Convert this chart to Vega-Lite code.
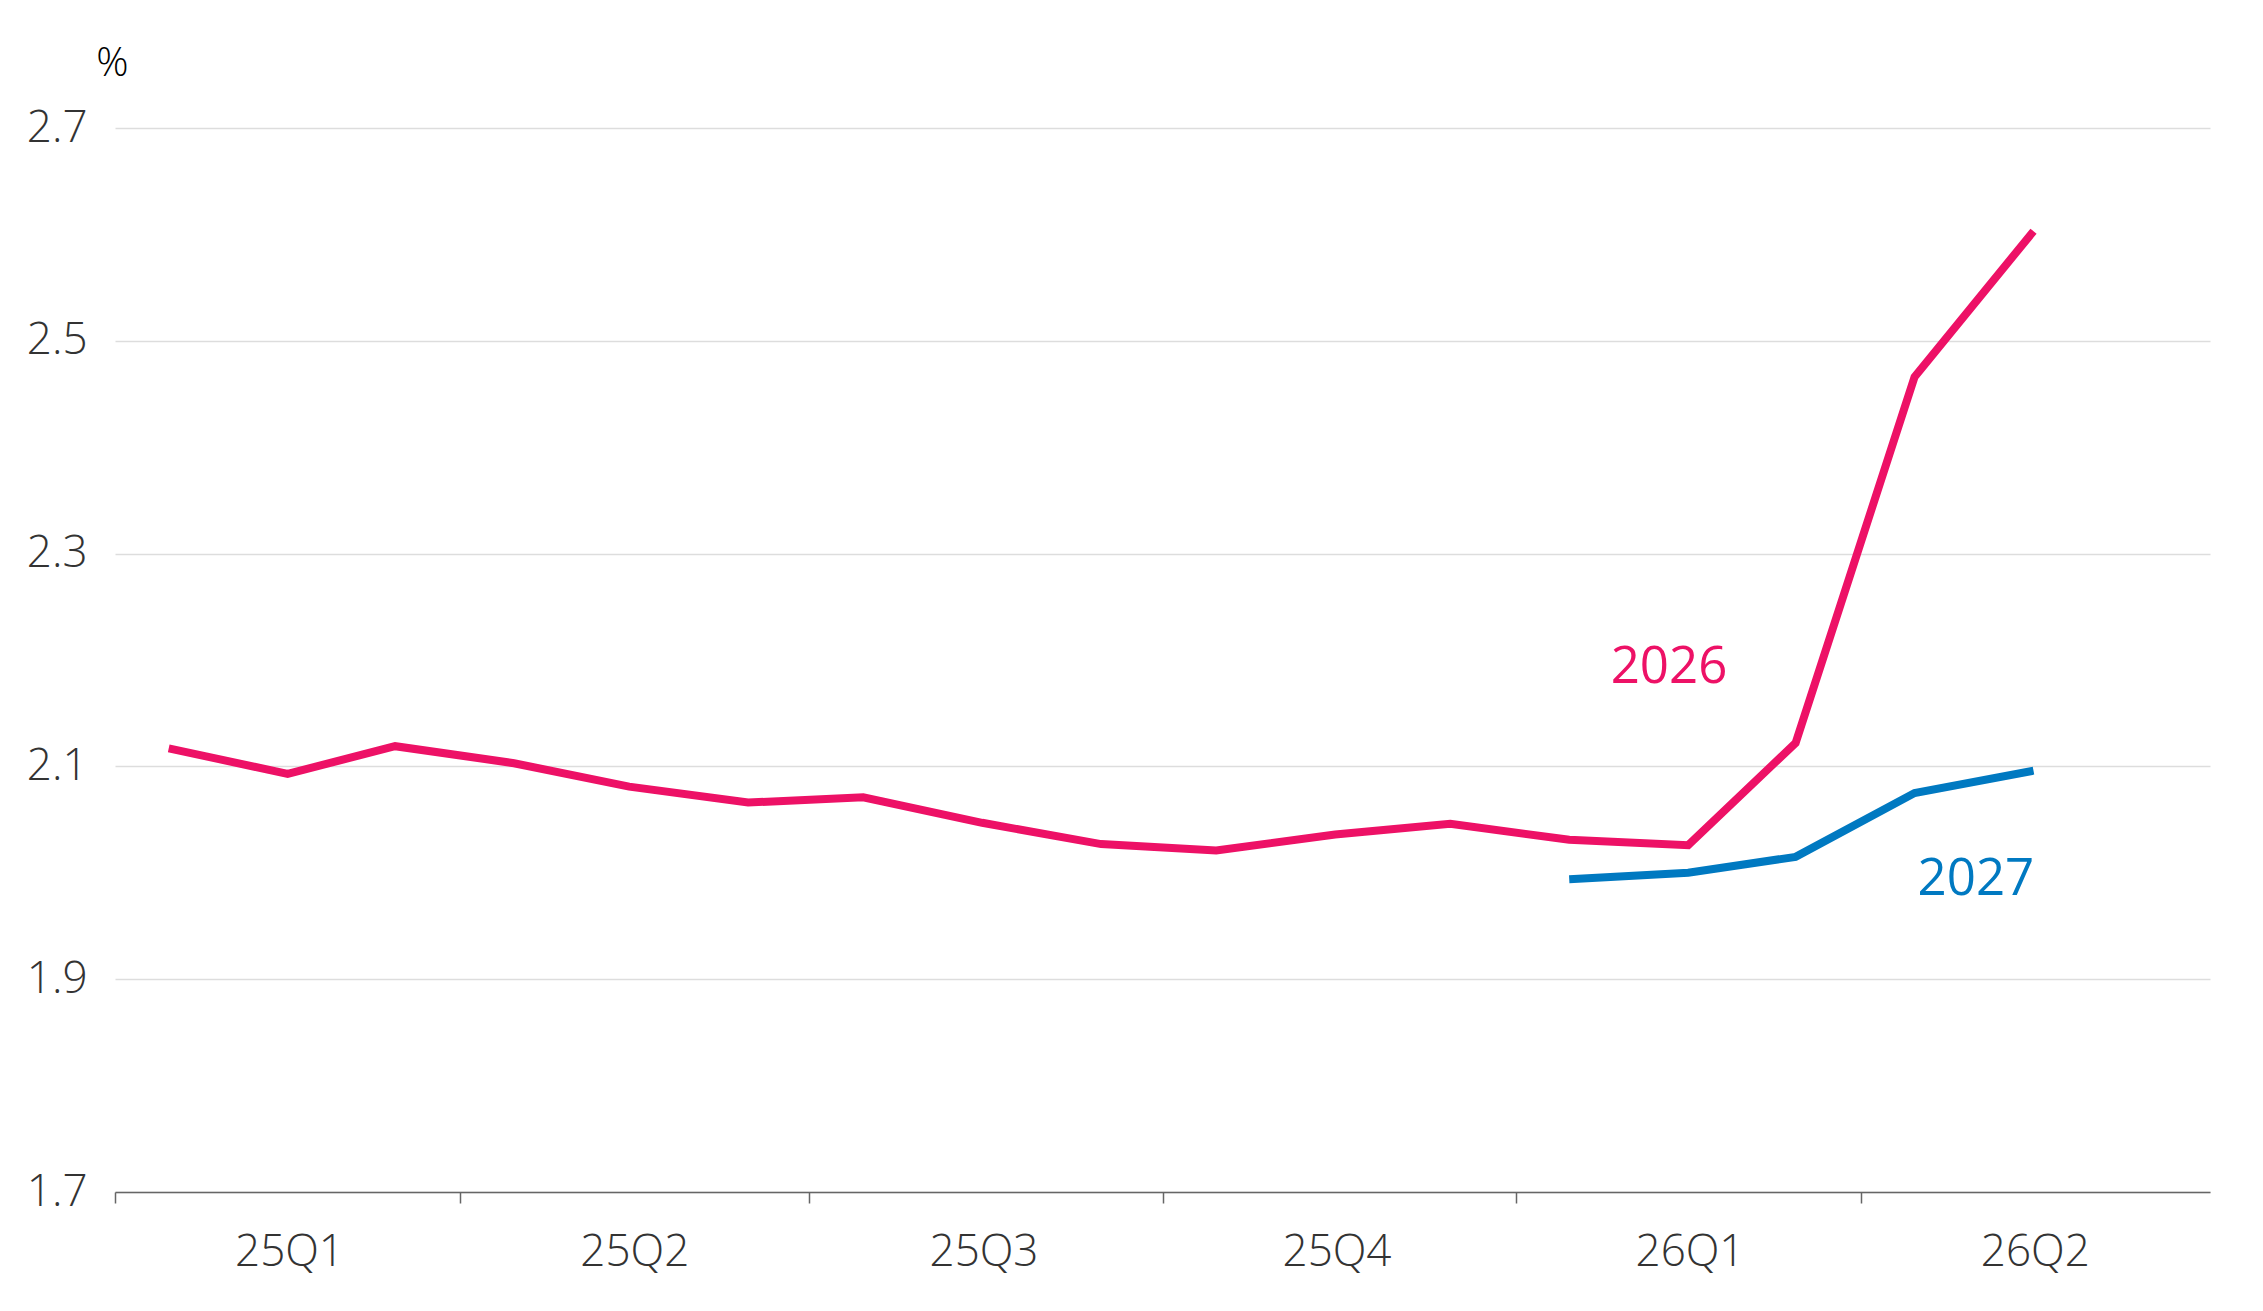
{
  "$schema": "https://vega.github.io/schema/vega-lite/v6.json",
  "autosize": {"type": "none"},
  "padding": {"left": 115, "top": 128, "right": 53, "bottom": 119},
  "width": 2095,
  "height": 1064,
  "background": "white",
  "config": {
    "view": {"stroke": null},
    "font": "Open Sans"
  },
  "datasets": {
    "series": [
      {"series": "2026", "date": "2025-01-15", "value": 2.117},
      {"series": "2026", "date": "2025-02-15", "value": 2.093},
      {"series": "2026", "date": "2025-03-15", "value": 2.119},
      {"series": "2026", "date": "2025-04-15", "value": 2.103},
      {"series": "2026", "date": "2025-05-15", "value": 2.081},
      {"series": "2026", "date": "2025-06-15", "value": 2.066},
      {"series": "2026", "date": "2025-07-15", "value": 2.071},
      {"series": "2026", "date": "2025-08-15", "value": 2.047},
      {"series": "2026", "date": "2025-09-15", "value": 2.027},
      {"series": "2026", "date": "2025-10-15", "value": 2.021},
      {"series": "2026", "date": "2025-11-15", "value": 2.036},
      {"series": "2026", "date": "2025-12-15", "value": 2.046},
      {"series": "2026", "date": "2026-01-15", "value": 2.031},
      {"series": "2026", "date": "2026-02-15", "value": 2.026},
      {"series": "2026", "date": "2026-03-15", "value": 2.122},
      {"series": "2026", "date": "2026-04-15", "value": 2.466},
      {"series": "2026", "date": "2026-05-16", "value": 2.603},
      {"series": "2027", "date": "2026-01-15", "value": 1.994},
      {"series": "2027", "date": "2026-02-15", "value": 2.0},
      {"series": "2027", "date": "2026-03-15", "value": 2.015},
      {"series": "2027", "date": "2026-04-15", "value": 2.075},
      {"series": "2027", "date": "2026-05-16", "value": 2.096}
    ],
    "labels": [
      {"series": "2026", "date": "2026-02-10", "value": 2.1785},
      {"series": "2027", "date": "2026-05-01", "value": 1.9792}
    ]
  },
  "encoding": {
    "x": {
      "field": "date",
      "type": "temporal",
      "scale": {
        "type": "utc",
        "domain": [
          {"year": 2025, "month": 1, "date": 1, "utc": true},
          {"year": 2026, "month": 7, "date": 1, "utc": true}
        ]
      },
      "axis": {
        "title": null,
        "values": [
          {"year": 2025, "month": 1, "date": 1, "utc": true},
          {"year": 2025, "month": 4, "date": 1, "utc": true},
          {"year": 2025, "month": 7, "date": 1, "utc": true},
          {"year": 2025, "month": 10, "date": 1, "utc": true},
          {"year": 2026, "month": 1, "date": 1, "utc": true},
          {"year": 2026, "month": 4, "date": 1, "utc": true}
        ],
        "labelExpr": "utcFormat(datum.value, '%y') + 'Q' + utcquarter(datum.value)",
        "labelOffset": 174,
        "labelAlign": "center",
        "labelBaseline": "top",
        "labelPadding": 27,
        "labelFont": "Open Sans",
        "labelFontWeight": 300,
        "labelFontSize": 44,
        "labelColor": "#333333",
        "labelOverlap": false,
        "labelFlush": false,
        "grid": false,
        "domainColor": "#666666",
        "domainWidth": 1.5,
        "tickColor": "#666666",
        "tickWidth": 1.5,
        "tickSize": 11
      }
    },
    "y": {
      "field": "value",
      "type": "quantitative",
      "scale": {"domain": [1.7, 2.7], "nice": false, "zero": false},
      "axis": {
        "title": "%",
        "titleAngle": 0,
        "titleAlign": "center",
        "titleBaseline": "alphabetic",
        "titleX": -3,
        "titleY": -53,
        "titleFont": "Open Sans",
        "titleFontSize": 40,
        "titleFontWeight": 300,
        "titleColor": "#000000",
        "values": [1.7, 1.9, 2.1, 2.3, 2.5, 2.7],
        "format": ".1f",
        "domain": false,
        "ticks": false,
        "labelPadding": 28,
        "labelFont": "Open Sans",
        "labelFontWeight": 300,
        "labelFontSize": 44,
        "labelColor": "#333333",
        "grid": true,
        "gridColor": "#dddddd",
        "gridWidth": 1.5
      }
    },
    "color": {
      "field": "series",
      "type": "nominal",
      "scale": {"domain": ["2026", "2027"], "range": ["#ED1166", "#0079C1"]},
      "legend": null
    }
  },
  "layer": [
    {
      "data": {"name": "series"},
      "mark": {"type": "line", "strokeWidth": 8, "strokeCap": "butt", "strokeJoin": "miter"}
    },
    {
      "data": {"name": "labels"},
      "mark": {"type": "text", "font": "Open Sans", "fontSize": 51, "fontWeight": 400, "align": "center", "baseline": "alphabetic"},
      "encoding": {"text": {"field": "series"}}
    }
  ]
}
